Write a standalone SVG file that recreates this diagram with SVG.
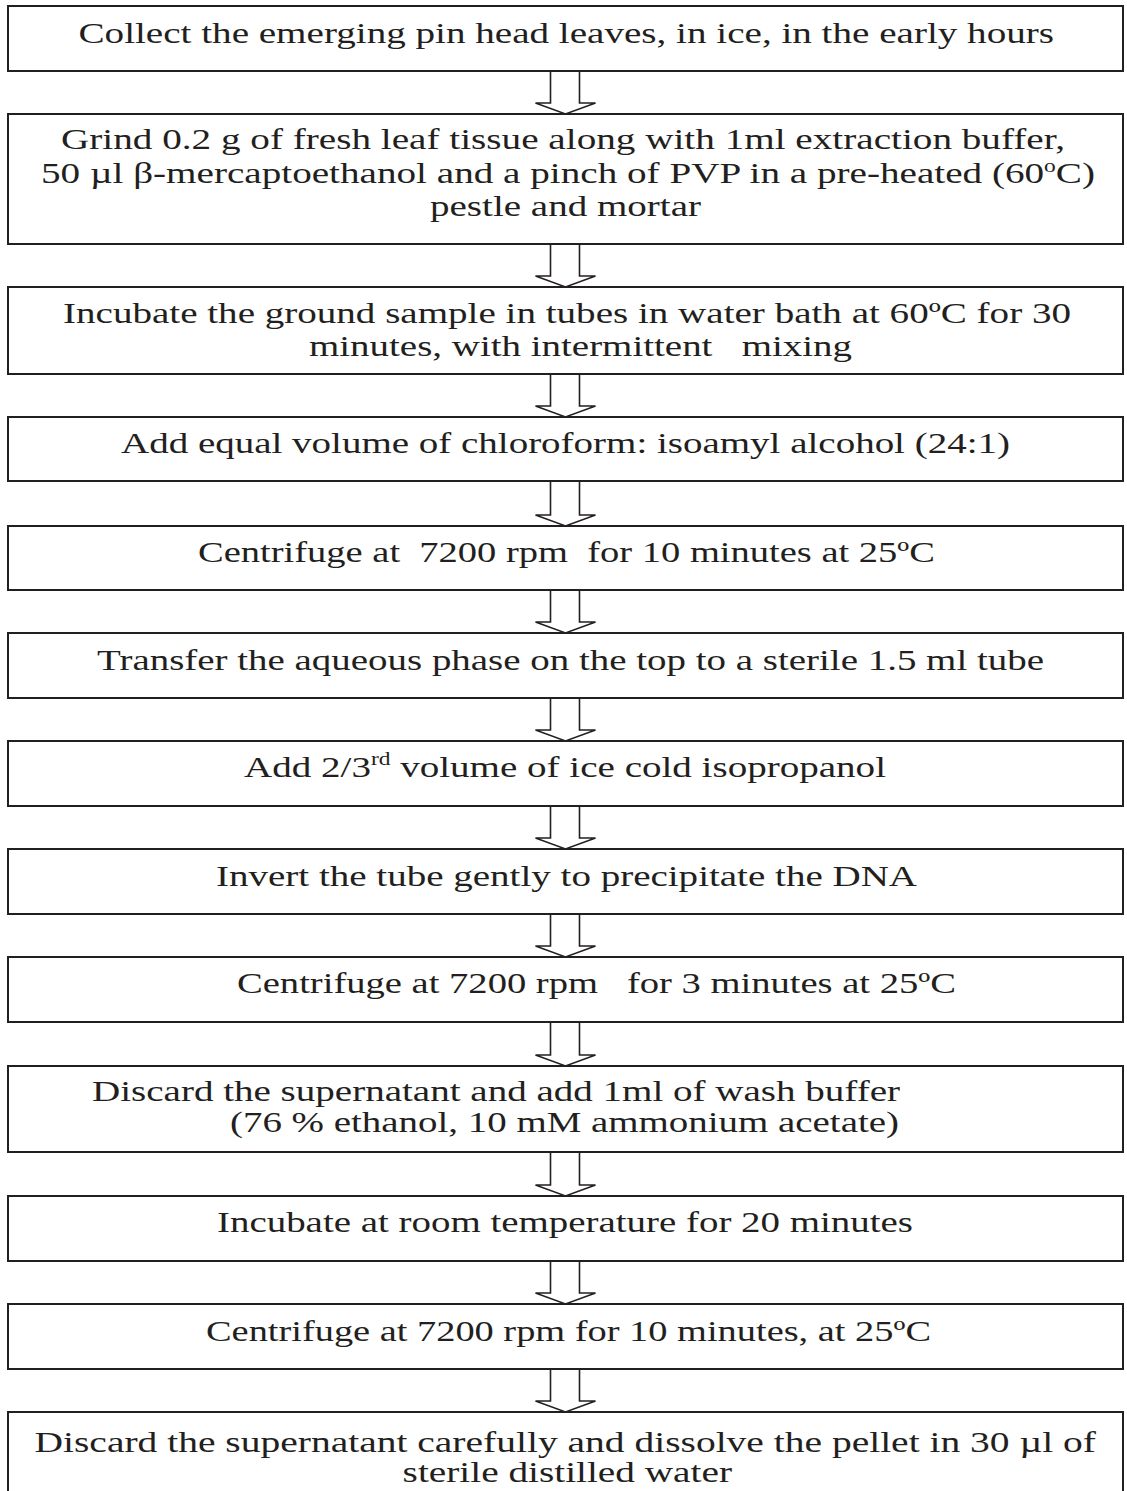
<svg xmlns="http://www.w3.org/2000/svg" width="1127" height="1491" viewBox="0 0 1127 1491">
<style>
.box{fill:#fff;stroke:#231f20;stroke-width:2}
.arr{fill:#fff;stroke:#231f20;stroke-width:1.6;stroke-linejoin:miter}
text{font-family:"Liberation Serif","Times New Roman",serif;font-size:30px;fill:#231f20;white-space:pre}
.sup{font-size:18px}
</style>
<rect x="0" y="0" width="1127" height="1491" fill="#fff"/>
<g id="connectors">
<path class="arr" d="M550.5,71 V103 H535.5 L565.5,114 L595.5,103 H579.5 V71"/>
<path class="arr" d="M550.5,244 V276 H535.5 L565.5,287 L595.5,276 H579.5 V244"/>
<path class="arr" d="M550.5,374 V406 H535.5 L565.5,417 L595.5,406 H579.5 V374"/>
<path class="arr" d="M550.5,481 V515 H535.5 L565.5,526 L595.5,515 H579.5 V481"/>
<path class="arr" d="M550.5,590 V622 H535.5 L565.5,633 L595.5,622 H579.5 V590"/>
<path class="arr" d="M550.5,698 V730 H535.5 L565.5,741 L595.5,730 H579.5 V698"/>
<path class="arr" d="M550.5,806 V838 H535.5 L565.5,849 L595.5,838 H579.5 V806"/>
<path class="arr" d="M550.5,914 V946 H535.5 L565.5,957 L595.5,946 H579.5 V914"/>
<path class="arr" d="M550.5,1022 V1055 H535.5 L565.5,1066 L595.5,1055 H579.5 V1022"/>
<path class="arr" d="M550.5,1152 V1185 H535.5 L565.5,1196 L595.5,1185 H579.5 V1152"/>
<path class="arr" d="M550.5,1261 V1293 H535.5 L565.5,1304 L595.5,1293 H579.5 V1261"/>
<path class="arr" d="M550.5,1369 V1401 H535.5 L565.5,1412 L595.5,1401 H579.5 V1369"/>
</g>
<g id="step1"><rect class="box" x="8" y="6" width="1115" height="65"/>
<text x="78.5" y="42.7" textLength="975.5" lengthAdjust="spacingAndGlyphs">Collect the emerging pin head leaves, in ice, in the early hours</text></g>
<g id="step2"><rect class="box" x="8" y="114" width="1115" height="130"/>
<text x="61" y="149" textLength="1004" lengthAdjust="spacingAndGlyphs">Grind 0.2 g of fresh leaf tissue along with 1ml extraction buffer,</text>
<text x="41" y="182.5" textLength="1054" lengthAdjust="spacingAndGlyphs">50 µl β-mercaptoethanol and a pinch of PVP in a pre-heated (60<tspan class="sup" dy="-11">o</tspan><tspan dy="11">C)</tspan></text>
<text x="430" y="215.5" textLength="271" lengthAdjust="spacingAndGlyphs">pestle and mortar</text></g>
<g id="step3"><rect class="box" x="8" y="287" width="1115" height="87"/>
<text x="63" y="322.7" textLength="1008" lengthAdjust="spacingAndGlyphs">Incubate the ground sample in tubes in water bath at 60ºC for 30</text>
<text x="309" y="356" textLength="543" lengthAdjust="spacingAndGlyphs">minutes, with intermittent   mixing</text></g>
<g id="step4"><rect class="box" x="8" y="417" width="1115" height="64"/>
<text x="121" y="453" textLength="889" lengthAdjust="spacingAndGlyphs">Add equal volume of chloroform: isoamyl alcohol (24:1)</text></g>
<g id="step5"><rect class="box" x="8" y="526" width="1115" height="64"/>
<text x="198" y="561.7" textLength="737" lengthAdjust="spacingAndGlyphs">Centrifuge at  7200 rpm  for 10 minutes at 25ºC</text></g>
<g id="step6"><rect class="box" x="8" y="633" width="1115" height="65"/>
<text x="97" y="670" textLength="947" lengthAdjust="spacingAndGlyphs">Transfer the aqueous phase on the top to a sterile 1.5 ml tube</text></g>
<g id="step7"><rect class="box" x="8" y="741" width="1115" height="65"/>
<text x="244" y="776.7" textLength="642" lengthAdjust="spacingAndGlyphs">Add 2/3<tspan class="sup" dy="-12">rd</tspan><tspan dy="12"> volume of ice cold isopropanol</tspan></text></g>
<g id="step8"><rect class="box" x="8" y="849" width="1115" height="65"/>
<text x="216" y="885.7" textLength="701" lengthAdjust="spacingAndGlyphs">Invert the tube gently to precipitate the DNA</text></g>
<g id="step9"><rect class="box" x="8" y="957" width="1115" height="65"/>
<text x="237" y="993" textLength="719" lengthAdjust="spacingAndGlyphs">Centrifuge at 7200 rpm   for 3 minutes at 25ºC</text></g>
<g id="step10"><rect class="box" x="8" y="1066" width="1115" height="86"/>
<text x="92" y="1101" textLength="808" lengthAdjust="spacingAndGlyphs">Discard the supernatant and add 1ml of wash buffer</text>
<text x="230" y="1132" textLength="669" lengthAdjust="spacingAndGlyphs">(76 % ethanol, 10 mM ammonium acetate)</text></g>
<g id="step11"><rect class="box" x="8" y="1196" width="1115" height="65"/>
<text x="217" y="1231.7" textLength="696" lengthAdjust="spacingAndGlyphs">Incubate at room temperature for 20 minutes</text></g>
<g id="step12"><rect class="box" x="8" y="1304" width="1115" height="65"/>
<text x="206" y="1340.7" textLength="725" lengthAdjust="spacingAndGlyphs">Centrifuge at 7200 rpm for 10 minutes, at 25ºC</text></g>
<g id="step13"><rect class="box" x="8" y="1412" width="1115" height="95"/>
<text x="34.5" y="1451.7" textLength="1061.5" lengthAdjust="spacingAndGlyphs">Discard the supernatant carefully and dissolve the pellet in 30 µl of</text>
<text x="402.6" y="1481.7" textLength="329.4" lengthAdjust="spacingAndGlyphs">sterile distilled water</text></g>
</svg>
